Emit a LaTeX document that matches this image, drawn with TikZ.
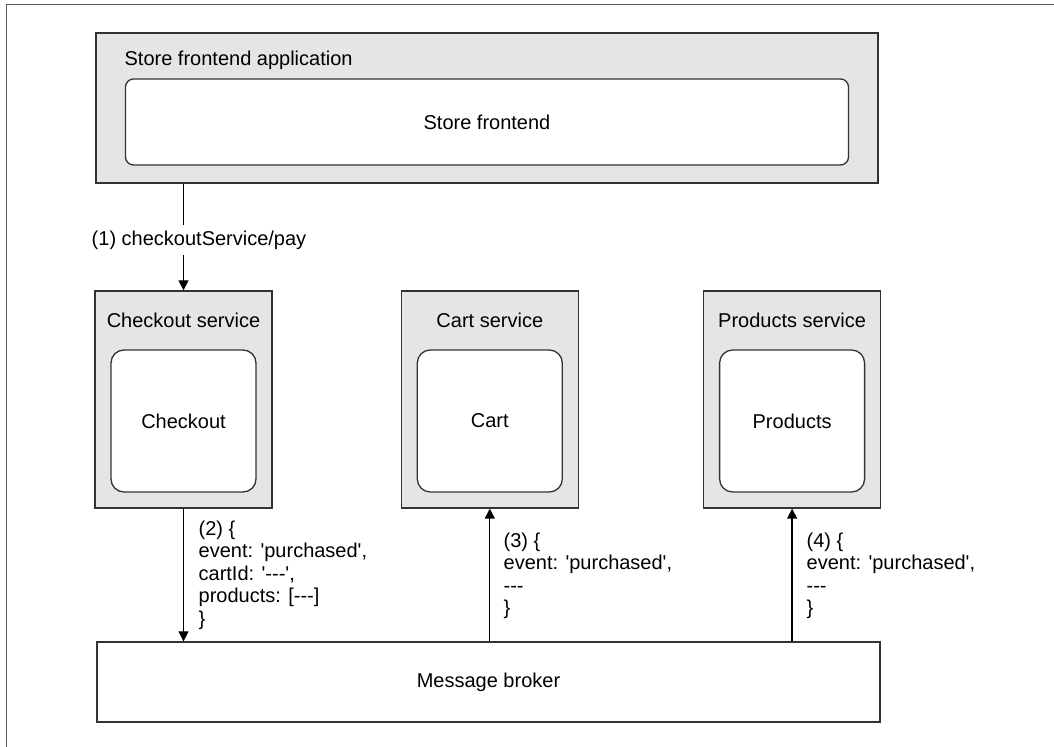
\documentclass[tikz,border=0pt]{standalone}
\usepackage{fontspec}
\newfontfamily\arialfont{Liberation Sans}
\usepackage{tikz}
\usetikzlibrary{arrows.meta,positioning}

\begin{document}
\begin{tikzpicture}[x=0.5pt,y=-0.5pt,>={Triangle[length=5pt,width=5pt]},line width=0.65pt,font=\arialfont\fontsize{10}{11.3}\selectfont]
\tikzstyle{svc}=[draw=black!80,fill=black!10,minimum width=88.5pt,minimum height=108.5pt,inner sep=0pt]
\tikzstyle{comp}=[draw=black!80,fill=white,rounded corners=6.5pt,minimum width=72.5pt,minimum height=71pt]
\tikzstyle{title}=[anchor=base,inner sep=0pt]
\tikzstyle{msg}=[align=left,anchor=north west,inner sep=0pt]
\useasboundingbox (0,0) rectangle (1054,747);
\draw[black!65,line width=0.5pt] (6,747) -- (6,5) -- (1054,5);
% frontend application
\node[svc,minimum width=391pt,minimum height=75pt] (app) at (487,108) {};
\node[title,anchor=base west] (appname) at (124,66) {Store frontend application};
\node[comp,rounded corners=4pt,minimum width=361.5pt,minimum height=43pt] (front) at ([yshift=-7pt]app.center) {Store frontend};
% services
\node[svc] (chk) at (183.5,399.5) {};
\node[svc,right=64pt of chk] (cart) {};
\node[svc,right=62pt of cart] (prod) {};
\node[title] (chkname) at ([yshift=-18.5pt]chk.north) {Checkout service};
\node[title] (cartname) at ([yshift=-18.5pt]cart.north) {Cart service};
\node[title] (prodname) at ([yshift=-18.5pt]prod.north) {Products service};
\node[comp] (chkin) at ([yshift=-10.75pt]chk.center) {Checkout};
\node[comp] (cartin) at ([yshift=-10.75pt]cart.center) {Cart};
\node[comp] (prodin) at ([yshift=-10.75pt]prod.center) {Products};
% broker
\node[draw=black!80,fill=white,minimum width=391.5pt,minimum height=40pt] (broker) at (488.5,682) {Message broker};
% messages
\draw[->] (app.south -| chk.north) -- (chk.north);
\node[fill=white,inner sep=3pt] (pay) at (199,240) {(1) checkoutService/pay};
\draw[->] (chk.south) -- (chk.south |- broker.north);
\draw[->] (cart.south |- broker.north) -- (cart.south);
\draw[->] (prod.south |- broker.north) -- (prod.south);
\node[msg] (ev2) at (198,520) {(2) \{\\event: 'purchased',\\cartId: '---',\\products: [---]\\\}};
\node[msg] (ev3) at (503,532) {(3) \{\\event: 'purchased',\\---\\\}};
\node[msg] (ev4) at (806,532) {(4) \{\\event: 'purchased',\\---\\\}};
\end{tikzpicture}
\end{document}
